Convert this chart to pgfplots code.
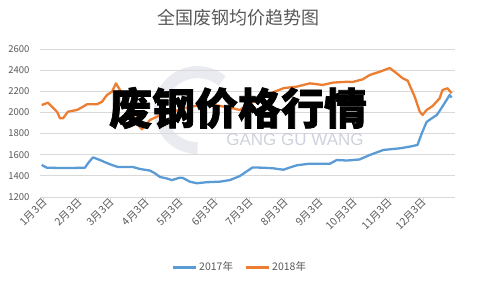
\documentclass[border=0pt]{standalone}
\usepackage{pgfplots}
\pgfplotsset{compat=1.18}
\usepackage{fontspec}
\setmainfont{Noto Sans CJK SC}
\newfontfamily\latinsans{Liberation Sans}
\newfontfamily\heavy[BoldFeatures={FakeBold=1.6}]{Noto Sans CJK SC}
\definecolor{s2017}{HTML}{5B9BD5}
\definecolor{s2018}{HTML}{ED7D31}
\definecolor{gridgray}{HTML}{D9D9D9}
\definecolor{txtgray}{HTML}{595959}
\definecolor{wmgray}{HTML}{C3C7D4}
\begin{document}
\begin{tikzpicture}
\useasboundingbox (0,0) rectangle (477bp,286bp);
% faint logo behind the plot
\draw[wmgray, opacity=0.35, line width=12bp] (222bp,205bp) arc[start angle=50, end angle=270, radius=38bp];
\begin{axis}[
  scale only axis,
  width=415bp, height=148bp,
  at={(40bp,89bp)}, anchor=south west,
  xmin=0, xmax=365,
  ymin=1200, ymax=2600,
  ytick={1200,1400,...,2600},
  xtick={3,34,62,93,123,154,184,215,246,276,307,337},
  xticklabels={1月3日,2月3日,3月3日,4月3日,5月3日,6月3日,7月3日,8月3日,9月3日,10月3日,11月3日,12月3日},
  axis x line*=bottom,
  axis y line*=left,
  ymajorgrids,
  grid style={gridgray, line width=0.8bp},
  y axis line style={draw=none},
  x axis line style={draw=gridgray, line width=0.8bp, -},
  tick align=outside,
  ytick style={draw=none},
  xtick style={gridgray, line width=0.8bp},
  major tick length=4bp,
  /pgf/number format/assume math mode=true,
  /pgf/number format/set thousands separator={},
  yticklabel style={font=\fontsize{9.5bp}{11bp}\selectfont, text=txtgray, xshift=-3bp},
  xticklabel style={font=\fontsize{10.5bp}{12bp}\selectfont, text=txtgray, rotate=45, anchor=east, inner sep=1.5bp, xshift=3bp, yshift=-1bp},
  legend columns=2,
  legend style={at={(0.482,-0.475)}, anchor=center, draw=none, fill=none,
    font=\fontsize{10.5bp}{12bp}\selectfont, text=txtgray,
    /tikz/every even column/.append style={column sep=10bp}},
  legend image code/.code={\draw[#1, line width=2.5bp] (0,0) -- (0.8cm,0);},
]
% 2017 average scrap price
\addplot[s2017, line width=2.3bp, line join=round] coordinates {
(1.5,1503) (6,1477) (15,1475) (30,1475) (39.5,1477) (43,1530) (46.6,1575)
(52.7,1550) (58,1525) (64,1500) (68.5,1484) (81.7,1484) (87.9,1465)
(96.7,1450) (101,1425) (105.4,1390) (111.6,1375) (116,1360) (123,1383)
(125.7,1380) (131.8,1345) (138,1330) (146.7,1340) (158.2,1345) (167,1360)
(175.7,1398) (187,1480) (196,1477) (204.7,1472) (214,1458) (220,1480)
(226,1500) (237,1515) (255,1515) (261,1550) (270,1545) (281,1555)
(290,1597) (302,1645) (316,1660) (325,1676) (332,1692) (335.7,1800)
(340,1910) (344.5,1944) (349,1976) (353,2040) (357.6,2118) (360.3,2165)
(362,2140)
};
\addlegendentry{2017年}
% 2018 average scrap price
\addplot[s2018, line width=2.3bp, line join=round] coordinates {
(1.5,2070) (7,2092) (10.5,2054) (15,2007) (17.6,1944) (20.2,1944)
(24.6,2007) (32.5,2023) (37.8,2054) (41.3,2077) (50,2077) (54.5,2101)
(58.9,2165) (63.3,2196) (66.8,2275) (70.3,2212) (79,2050) (85,1900)
(89.6,1840) (96.7,1928) (102.8,1960) (114,2000) (127,2040) (140.6,2070)
(153.8,2070) (169.6,2039) (175.7,2023) (183.7,2080) (200,2170)
(214.4,2230) (225.8,2244) (237.3,2275) (248.7,2260) (257.5,2282)
(269.8,2290) (275,2288) (283.8,2313) (290,2354) (298.8,2385)
(307.6,2420) (313.7,2370) (319,2323) (323.4,2300) (329.5,2150)
(334,2007) (336.5,1976) (340,2023) (345.3,2061) (351.5,2134)
(354,2212) (358.5,2228) (362,2181)
};
\addlegendentry{2018年}
\end{axis}
% title
\node[text=txtgray, font=\fontsize{18bp}{21bp}\selectfont] at (238bp,268bp) {全国废钢均价趋势图};
% watermark lettering
\node[text=wmgray, opacity=0.8, font=\latinsans\fontsize{17bp}{20bp}\selectfont] at (295bp,146bp) {GANG GU WANG};
% overlay caption
\node[font=\heavy\bfseries\fontsize{43bp}{48bp}\selectfont, text=black] at (238bp,178bp) {废钢价格行情};
\end{tikzpicture}
\end{document}
